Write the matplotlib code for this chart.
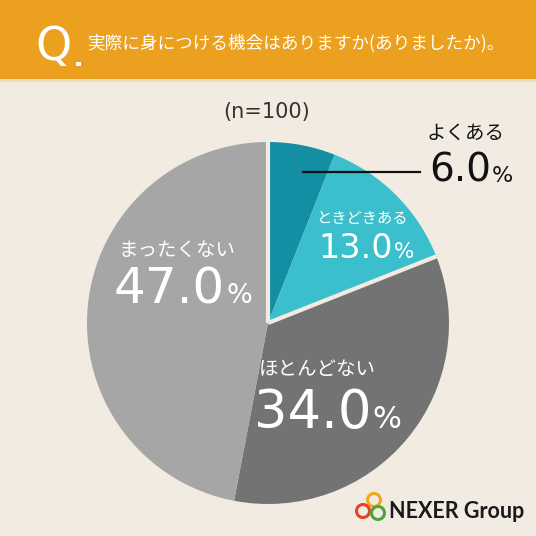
import matplotlib
matplotlib.use('Agg')
import matplotlib.pyplot as plt
from matplotlib.patches import Rectangle, Circle
import numpy as np

plt.rcParams['font.family'] = ['Noto Sans CJK JP', 'DejaVu Sans']

# data
labels = ['よくある', 'ときどきある', 'ほとんどない', 'まったくない']
values = [6.0, 13.0, 34.0, 47.0]
colors = ['#138ea3', '#3bbfcc', '#737373', '#a6a6a6']
title = '実際に身につける機会はありますか(ありましたか)。'
n_text = '(n=100)'

BG = '#f2ebe1'
ORANGE = '#eba020'
W = 536
NUM = ['DejaVu Sans']


def Y(py):
    return W - py


fig = plt.figure(figsize=(5.36, 5.36), dpi=100)
fig.patch.set_facecolor(BG)
ax = fig.add_axes([0, 0, 1, 1])
ax.set_facecolor(BG)

# header
ax.add_patch(Rectangle((0, Y(79)), W, 79, color=ORANGE, lw=0))
ax.add_patch(Rectangle((0, Y(82)), W, 3, color='#efdcb8', lw=0))
ax.text(35, Y(60), 'Q', color='white', fontsize=33, family=NUM, va='baseline')
ax.add_patch(Rectangle((76, Y(66)), 4.5, 4.5, color='white', lw=0))
ax.text(87, Y(43), title, color='white', fontsize=12.7, va='center')

ax.text(267, Y(112), n_text, fontsize=15, family=NUM, va='center', ha='center',
        color='#333333')

# pie
cx, cy, r = 268, Y(323), 181
ax.pie(values, colors=colors, startangle=90, counterclock=False,
       center=(cx, cy), radius=r, wedgeprops=dict(linewidth=0))

# separators between groups
for frac in [0.0, (values[0] + values[1]) / 100]:
    a = np.deg2rad(90 - frac * 360)
    ax.plot([cx, cx + r * np.cos(a)], [cy, cy + r * np.sin(a)],
            color=BG, lw=3, solid_capstyle='butt')

# labels
ax.plot([303, 420], [Y(172), Y(172)], color='#111111', lw=1.6)
ax.text(466, Y(133), labels[0], fontsize=14, ha='center', va='center', color='#111111')
ax.text(491, Y(182), '6.0', fontsize=28, family=NUM, ha='right', va='baseline', color='#111111')
ax.text(492, Y(182), '%', fontsize=16, family=NUM, ha='left', va='baseline', color='#111111')

ax.text(363, Y(218), labels[1], fontsize=11, ha='center', va='center', color='white')
ax.text(393, Y(258), '13.0', fontsize=24, family=NUM, ha='right', va='baseline', color='white')
ax.text(394, Y(258), '%', fontsize=15.5, family=NUM, ha='left', va='baseline', color='white')

ax.text(177, Y(250), labels[3], fontsize=14, ha='center', va='center', color='white')
ax.text(225, Y(303), '47.0', fontsize=36, family=NUM, ha='right', va='baseline', color='white')
ax.text(226, Y(303), '%', fontsize=19.5, family=NUM, ha='left', va='baseline', color='white')

ax.text(317, Y(370), labels[2], fontsize=14, ha='center', va='center', color='white')
ax.text(371, Y(428), '34.0', fontsize=38, family=NUM, ha='right', va='baseline', color='white')
ax.text(372, Y(428), '%', fontsize=22, family=NUM, ha='left', va='baseline', color='white')

# logo
for (lx, ly, c) in [(374, 500, '#f2a81d'), (363, 511, '#e5412d'), (378, 513, '#4aa63c')]:
    ax.add_patch(Circle((lx, Y(ly)), 6.5, fill=False, ec=c, lw=2.2))
ax.text(389, Y(512), 'NEXER Group', fontsize=15.5, fontweight='bold',
        family=['Lato', 'DejaVu Sans'], va='center', ha='left', color='#1a1a1a')

ax.set_xlim(0, W)
ax.set_ylim(0, W)
ax.set_aspect('equal')
ax.axis('off')

fig.savefig('out.png', dpi=100, facecolor=BG)
